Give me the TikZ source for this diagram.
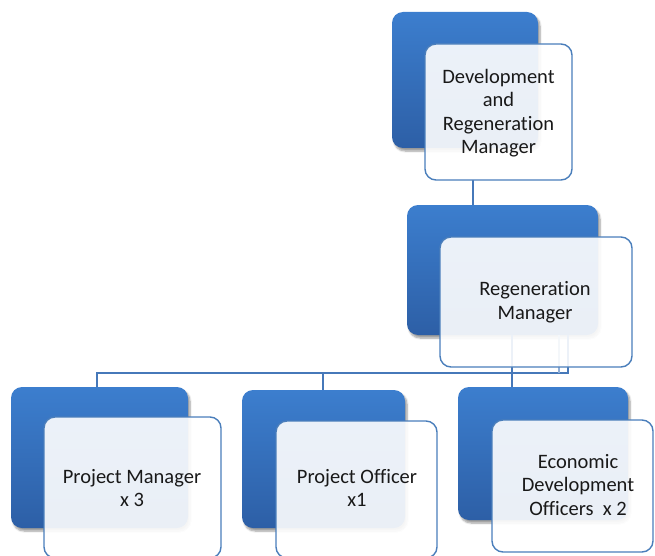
\documentclass[tikz,border=0pt]{standalone}
\usepackage{fontspec}
\setmainfont[Ligatures={NoCommon}]{Carlito}
\usetikzlibrary{shadows.blur}
\definecolor{bluetop}{RGB}{60,126,206}
\definecolor{bluebot}{RGB}{45,95,166}
\definecolor{edgeblue}{RGB}{74,126,187}
\definecolor{linkblue}{RGB}{70,120,185}
\tikzset{
  backcard/.style={rounded corners=11pt, top color=bluetop, bottom color=bluebot,
    draw=none, blur shadow={shadow xshift=2pt, shadow yshift=-3pt, shadow blur steps=6, shadow opacity=40}},
  frontcard/.style={rounded corners=11pt, draw=edgeblue, line width=1.4pt,
    fill=white, fill opacity=0.9},
  cardtext/.style={align=center, text=black!90, font=\fontsize{20.5}{23.5}\selectfont},
  link/.style={draw=linkblue, line width=2pt},
  faintlink/.style={draw=linkblue!60, line width=1.2pt},
}
\begin{document}
\begin{tikzpicture}[x=1pt,y=-1pt]
\useasboundingbox (0,0) rectangle (655,556);

% back cards
\path[backcard] (392,12) rectangle (538,148);
\path[backcard] (407,205) rectangle (598,335);
\path[backcard] (11,387) rectangle (188,528);
\path[backcard] (242,390) rectangle (405,528);
\path[backcard] (458,387) rectangle (628,520);

% anchor points of the connectors
\coordinate (topbot) at (473,180);
\coordinate (regtop) at (473,205);
\coordinate (regA) at (512,335);
\coordinate (regB) at (568,335);
\coordinate (regC) at (559,335);
\coordinate (pmtop) at (97,387);
\coordinate (potop) at (323,390);
\coordinate (edtop) at (512,387);

% connectors
\draw[link] (topbot) -- (regtop);
\draw[link] (regB) -- (568,373) -- (97,373) -- (pmtop);
\draw[link] (323,373) -- (potop);
\draw[link] (regA) -- (edtop);
\draw[faintlink] (regC) -- (559,373);

% front cards
\path[frontcard] (425,44) rectangle (572,180);
\path[frontcard] (440,237) rectangle (632,367);
\path[frontcard] (44,417) rectangle (221,558);
\path[frontcard] (276,421) rectangle (437,558);
\path[frontcard] (492,420) rectangle (653,552);

% labels
\node[cardtext] (dev) at (498.5,113) {Development\\and\\Regeneration\\Manager};
\node[cardtext] (reg) at (535,302) {Regeneration\\Manager};
\node[cardtext] (pm) at (132,488) {Project Manager\\x 3};
\node[cardtext] (po) at (357,488) {Project Officer\\x1};
\node[cardtext] (ed) at (578,485) {Economic\\Development\\Officers\ \ x 2};
\end{tikzpicture}
\end{document}
